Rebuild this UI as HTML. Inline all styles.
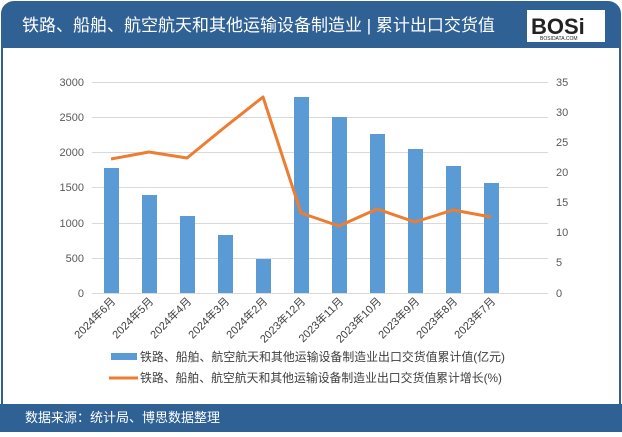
<!DOCTYPE html>
<html><head><meta charset="utf-8"><style>
body{margin:0;width:622px;height:432px;background:#fff;font-family:"Liberation Sans","Noto Sans CJK SC",sans-serif;overflow:hidden}
</style></head><body>
<svg width="622" height="432" xmlns="http://www.w3.org/2000/svg" font-family="Liberation Sans, Noto Sans CJK SC, sans-serif">
<rect x="0" y="0" width="622" height="432" fill="#fff"/>
<rect x="2" y="2" width="618" height="428" rx="12" fill="#fff" stroke="#2f5f93" stroke-width="2"/>
<path d="M2 48 V14 Q2 2 14 2 H608 Q620 2 620 14 V48 Z" fill="#2f6195"/>
<text x="22" y="31" font-size="17" fill="#fff">铁路、船舶、航空航天和其他运输设备制造业 | 累计出口交货值</text>
<rect x="527" y="10" width="78" height="32" fill="#fff"/>
<text x="531" y="34" font-size="22" font-weight="bold" fill="#222">BOSi</text>
<text x="540" y="40" font-size="5" fill="#222">BOSIDATA.COM</text>
<rect x="0" y="404" width="622" height="28" fill="#2f6195"/>
<text x="25" y="422" font-size="13" fill="#fff">数据来源：统计局、博思数据整理</text>
<g stroke="#d9d9d9" stroke-width="1">
<line x1="92" x2="548" y1="82.5" y2="82.5"/><line x1="92" x2="548" y1="117.5" y2="117.5"/>
<line x1="92" x2="548" y1="152.5" y2="152.5"/><line x1="92" x2="548" y1="187.5" y2="187.5"/>
<line x1="92" x2="548" y1="223.5" y2="223.5"/><line x1="92" x2="548" y1="258.5" y2="258.5"/>
<line x1="92" x2="548" y1="293.5" y2="293.5"/>
</g>
<g font-size="11" fill="#595959" text-anchor="end">
<text x="84" y="86">3000</text><text x="84" y="121">2500</text><text x="84" y="156">2000</text>
<text x="84" y="191">1500</text><text x="84" y="227">1000</text><text x="84" y="262">500</text><text x="84" y="297">0</text>
</g>
<g font-size="11" fill="#595959">
<text x="556" y="86">35</text><text x="556" y="116">30</text><text x="556" y="146">25</text>
<text x="556" y="176">20</text><text x="556" y="206">15</text><text x="556" y="236">10</text>
<text x="556" y="266">5</text><text x="556" y="297">0</text>
</g>
<g fill="#5b9bd5">
<rect x="104" y="168" width="15" height="125"/>
<rect x="142" y="195" width="15" height="98"/>
<rect x="180" y="216" width="15" height="77"/>
<rect x="218" y="235" width="15" height="58"/>
<rect x="256" y="259" width="15" height="34"/>
<rect x="294" y="97" width="15" height="196"/>
<rect x="332" y="117" width="15" height="176"/>
<rect x="370" y="134" width="15" height="159"/>
<rect x="408" y="149" width="15" height="144"/>
<rect x="446" y="166" width="15" height="127"/>
<rect x="484" y="183" width="15" height="110"/>
</g>
<polyline points="111,159 149,152 187,158 225,127 263,97 301,213 339,226 377,209 415,222 453,210 491,217" fill="none" stroke="#ed7d31" stroke-width="3" stroke-linejoin="round"/>
<g font-size="11" fill="#404040" text-anchor="end">
<text transform="translate(116,302) rotate(-45)">2024年6月</text>
<text transform="translate(154,302) rotate(-45)">2024年5月</text>
<text transform="translate(192,302) rotate(-45)">2024年4月</text>
<text transform="translate(230,302) rotate(-45)">2024年3月</text>
<text transform="translate(268,302) rotate(-45)">2024年2月</text>
<text transform="translate(306,302) rotate(-45)">2023年12月</text>
<text transform="translate(344,302) rotate(-45)">2023年11月</text>
<text transform="translate(382,302) rotate(-45)">2023年10月</text>
<text transform="translate(420,302) rotate(-45)">2023年9月</text>
<text transform="translate(458,302) rotate(-45)">2023年8月</text>
<text transform="translate(496,302) rotate(-45)">2023年7月</text>
</g>
<rect x="111" y="353" width="26" height="7" fill="#5b9bd5"/>
<text x="140" y="361" font-size="12" fill="#404040" textLength="365" lengthAdjust="spacingAndGlyphs">铁路、船舶、航空航天和其他运输设备制造业出口交货值累计值(亿元)</text>
<line x1="109" x2="138" y1="378" y2="378" stroke="#ed7d31" stroke-width="3"/>
<text x="140" y="382" font-size="12" fill="#404040" textLength="362" lengthAdjust="spacingAndGlyphs">铁路、船舶、航空航天和其他运输设备制造业出口交货值累计增长(%)</text>
</svg>
</body></html>
